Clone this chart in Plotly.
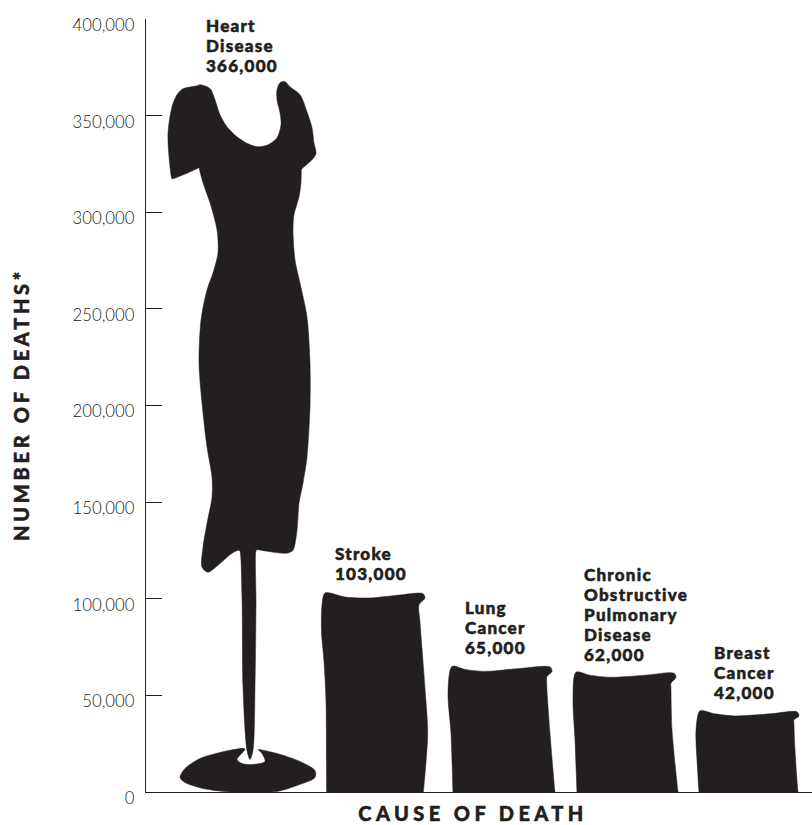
import plotly.graph_objects as go

categories = ["Heart<br>Disease", "Stroke", "Lung<br>Cancer", "Chronic<br>Obstructive<br>Pulmonary<br>Disease", "Breast<br>Cancer"]
deaths = [366000, 103000, 65000, 62000, 42000]
y_ticks = [0, 50000, 100000, 150000, 200000, 250000, 300000, 350000, 400000]
y_tick_labels = ["0", "50,000", "100,000", "150,000", "200,000", "250,000", "300,000", "350,000", "400,000"]
label_dx = [-45, -41, -36, -42, -37]
label_dy = [3, 5, 2, -3, 2]

INK = "#231f20"
FONT = "'Lato Black', Lato, 'Open Sans', sans-serif"
LIGHT = "Lato, 'Open Sans', sans-serif"
UNIT_PER_CAT = 125.0
BASE = 791.5

# Silhouette sketches: sx is scaled to one category step, sy to the value.
dress_center = 249
dress_top = 85
dress_body = [
    (200, 85), (207, 87), (211, 90), (215, 100), (220, 115), (227, 127), (237, 137), (248, 144),
    (258, 147), (268, 145), (277, 138), (281, 125), (280, 113), (277, 100), (277, 90), (280, 83),
    (285, 82), (290, 87), (300, 95), (307, 112), (312, 128), (314, 143), (316, 154), (312, 160),
    (302, 169), (301.5, 170), (301, 183), (299, 197), (294, 215), (293, 230), (295, 260), (300, 283), (307, 317),
    (310, 363), (310, 407), (307, 457), (303, 483), (299, 503), (297, 530), (293, 550), (287, 553),
    (267, 551), (257, 549.5), (256, 550.5), (256, 603), (255, 687), (253, 750), (250, 759), (247, 750), (243, 687),
    (242, 597), (240, 551), (239, 550), (232, 553), (218, 565), (208, 572), (202, 567), (203, 547), (207, 523),
    (212, 497), (212, 477), (207, 447), (202, 403), (199, 363), (201, 320), (207, 290), (213, 273),
    (218, 253), (217, 230), (210, 203), (203, 183), (199.5, 170), (199, 168), (198, 168.5), (188, 173), (173, 179), (172, 179),
    (171.5, 178), (169, 157), (168, 133), (172, 107), (177, 95), (183, 89), (197, 86), (200, 85),
]
dress_base = [
    (258, 749), (277, 753), (300, 761), (315, 770), (315, 777), (297, 785), (277, 791), (255, 792),
    (230, 792), (203, 788), (185, 782), (180, 777), (185, 768), (200, 758), (220, 752), (244, 748),
    (245, 749), (237, 759), (242, 763), (252, 764), (265, 761), (262, 753), (259, 750), (258, 749),
]
block_outlines = {
    1: [(325, 591), (322, 603), (321.5, 630), (324, 660), (326, 700), (326.6, 790), (326.7, 792), (328, 792), (422, 792), (423.3, 792),
        (423.5, 790), (427.7, 733), (425, 687), (420, 620), (419, 603), (425, 596), (423, 591.7), (400, 593), (370, 596), (345, 595), (325, 591)],
    2: [(452, 666), (448, 693), (451, 733), (452.9, 790), (453, 792), (455, 792), (553, 792), (555, 792), (554.8, 790), (550, 733), (546.7, 683), (547, 676),
        (552, 671), (550, 666.5), (520, 668), (485, 671), (465, 669), (452, 666)],
    3: [(576, 673), (573, 700), (575, 740), (576.9, 790), (577, 792), (579, 792), (676, 792), (678, 792), (677.8, 790), (672, 730), (671, 690), (671, 684),
        (676, 678), (674, 674), (645, 676), (610, 678), (590, 676), (576, 673)],
    4: [(700, 711), (696, 730), (697, 760), (698.9, 790), (699, 792), (701, 792), (796, 792), (798, 792), (797.8, 790), (795, 750), (794, 725), (794, 720),
        (799, 716), (797, 712), (770, 714), (735, 716), (715, 714), (700, 711)],
}
block_center = {1: 374, 2: 499, 3: 624, 4: 749}


def to_data(points, cat, center, value):
    top = min(p[1] for p in points[:3])
    xs = [cat + (p[0] - center) / UNIT_PER_CAT for p in points]
    ys = [max(0, value * (BASE - p[1]) / (BASE - top)) for p in points]
    return xs, ys


fig = go.Figure()
silh = dict(mode="lines", fill="toself", fillcolor=INK, hoverinfo="skip", showlegend=False,
            line=dict(color=INK, width=0.5, shape="spline", smoothing=0.8))

for pts in (dress_body, dress_base):
    a = [(p[0] - dress_center) / UNIT_PER_CAT for p in pts]
    b = [max(0, deaths[0] * (BASE - p[1]) / (BASE - dress_top)) for p in pts]
    fig.add_trace(go.Scatter(x=a, y=b, **silh))

for cat, pts in block_outlines.items():
    a, b = to_data(pts, cat, block_center[cat], deaths[cat])
    fig.add_trace(go.Scatter(x=a, y=b, **silh))

for i, (name, v) in enumerate(zip(categories, deaths)):
    fig.add_annotation(
        x=i, y=v, xref="x", yref="y", text=f"{name}<br>{v:,}", showarrow=False,
        xanchor="left", yanchor="bottom", align="left", xshift=label_dx[i], yshift=label_dy[i],
        font=dict(family=FONT, size=17, color=INK, weight=900),
    )

fig.update_layout(
    width=812, height=825,
    margin=dict(l=146, r=0, t=19, b=33),
    paper_bgcolor="white", plot_bgcolor="white",
    showlegend=False,
    xaxis=dict(
        range=[(146 - dress_center) / UNIT_PER_CAT, (812 - dress_center) / UNIT_PER_CAT],
        showgrid=False, zeroline=False, showticklabels=False, ticks="",
        showline=True, linecolor=INK, linewidth=1.2,
        title=dict(text="CAUSE OF DEATH", font=dict(family=FONT, size=20, color=INK, weight=900), standoff=19),
    ),
    yaxis=dict(
        range=[0, 400000], tickvals=y_ticks, ticktext=y_tick_labels,
        showgrid=False, zeroline=False,
        showline=True, linecolor=INK, linewidth=1.2,
        ticks="inside", ticklen=16, tickwidth=1, tickcolor=INK,
        ticklabelstandoff=7,
        tickfont=dict(family=LIGHT, size=16.8, color=INK, weight=300),
        title=dict(text="NUMBER OF DEATHS*", font=dict(family=FONT, size=20, color=INK, weight=900), standoff=37),
    ),
)

post = """
document.body.style.margin = '0';
document.querySelectorAll('.xtitle').forEach(function (e) { e.style.letterSpacing = '4.4px'; e.setAttribute('dx', '-6'); e.style.stroke = '#231f20'; e.style.strokeWidth = '0.5px'; });
document.querySelectorAll('.ytitle').forEach(function (e) { e.style.letterSpacing = '3.7px'; e.setAttribute('dx', '1'); e.style.stroke = '#231f20'; e.style.strokeWidth = '0.5px'; });
document.querySelectorAll('.ytick text').forEach(function (e) { e.setAttribute('dy', '6'); });
document.querySelectorAll('.annotation-text').forEach(function (e) {
    e.style.letterSpacing = '1.25px'; e.style.stroke = '#231f20'; e.style.strokeWidth = '0.55px';
});
document.querySelectorAll('.annotation-text tspan.line').forEach(function (t) {
    var d = parseFloat(t.getAttribute('dy') || '0');
    t.setAttribute('dy', (d / 1.3 * 20) + 'px');
});
"""
fig.write_html("out.html", post_script=post, config={"displayModeBar": False})
